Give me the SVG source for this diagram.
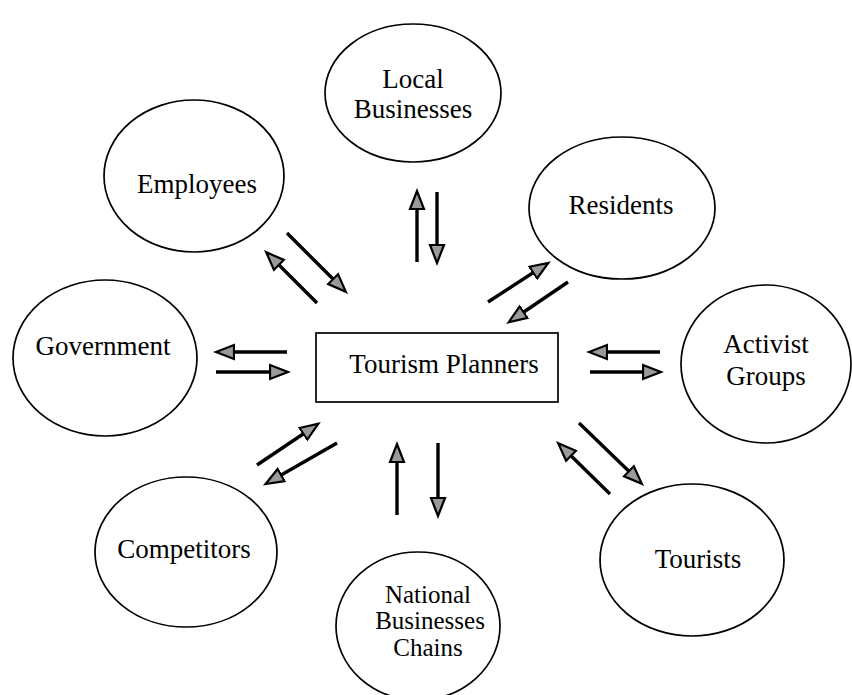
<svg xmlns="http://www.w3.org/2000/svg" width="852" height="695" viewBox="0 0 852 695">
<style>
.node{fill:#fff;stroke:#000;stroke-width:1.7}
.t{font-size:27px;fill:#000;text-anchor:middle}
.s{font-size:25px}
.c{stroke:#000;stroke-width:3.4;fill:none;marker-end:url(#ah)}
</style>
<defs>
<marker id="ah" markerUnits="userSpaceOnUse" markerWidth="22" markerHeight="18" viewBox="0 0 22 18" refX="15" refY="9" orient="auto">
<path d="M1,2 L19,9 L1,16 Z" fill="#9a9a9a" stroke="#000" stroke-width="2.2" stroke-linejoin="miter"/>
</marker>
</defs>
<rect width="852" height="695" fill="#fff"/>
<g font-family="'Liberation Serif', 'Times New Roman', 'DejaVu Serif', serif">
<g id="local-businesses"><ellipse class="node" cx="413" cy="93" rx="88" ry="69"/><text class="t" x="413" y="88">Local</text><text class="t" x="413" y="118">Businesses</text></g>
<g id="employees"><ellipse class="node" cx="194" cy="176" rx="90" ry="76"/><text class="t" x="197" y="193">Employees</text></g>
<g id="residents"><ellipse class="node" cx="622" cy="208" rx="93" ry="71"/><text class="t" x="621" y="214">Residents</text></g>
<g id="government"><ellipse class="node" cx="105" cy="358" rx="92" ry="78"/><text class="t" x="103" y="355">Government</text></g>
<g id="tourism-planners"><rect class="node" x="316" y="333" width="242" height="69"/><text class="t" x="444" y="373">Tourism Planners</text></g>
<g id="activist-groups"><ellipse class="node" cx="766" cy="364" rx="85" ry="79"/><text class="t" x="766" y="353">Activist</text><text class="t" x="766" y="385">Groups</text></g>
<g id="competitors"><ellipse class="node" cx="186" cy="552" rx="91" ry="75"/><text class="t" x="184" y="558">Competitors</text></g>
<g id="national-businesses-chains"><ellipse class="node" cx="418" cy="626" rx="82" ry="74"/><text class="t s" x="428" y="603">National</text><text class="t s" x="430" y="629">Businesses</text><text class="t s" x="428" y="656">Chains</text></g>
<g id="tourists"><ellipse class="node" cx="692" cy="560" rx="92" ry="76"/><text class="t" x="698" y="568">Tourists</text></g>
</g>
<g id="connectors">
<line class="c" x1="287" y1="233" x2="343" y2="289"/>
<line class="c" x1="317" y1="303" x2="269" y2="255"/>
<line class="c" x1="417" y1="262" x2="417" y2="195"/>
<line class="c" x1="437" y1="192" x2="437" y2="259"/>
<line class="c" x1="488" y1="302" x2="545" y2="265"/>
<line class="c" x1="568" y1="282" x2="512" y2="320"/>
<line class="c" x1="287" y1="352" x2="220" y2="352"/>
<line class="c" x1="216" y1="372" x2="284" y2="372"/>
<line class="c" x1="660" y1="352" x2="593" y2="352"/>
<line class="c" x1="590" y1="372" x2="657" y2="372"/>
<line class="c" x1="257" y1="465" x2="315" y2="426"/>
<line class="c" x1="337" y1="443" x2="269" y2="482"/>
<line class="c" x1="397" y1="515" x2="397" y2="448"/>
<line class="c" x1="438" y1="443" x2="438" y2="512"/>
<line class="c" x1="579" y1="423" x2="639" y2="481"/>
<line class="c" x1="610" y1="494" x2="561" y2="446"/>
</g>
</svg>
